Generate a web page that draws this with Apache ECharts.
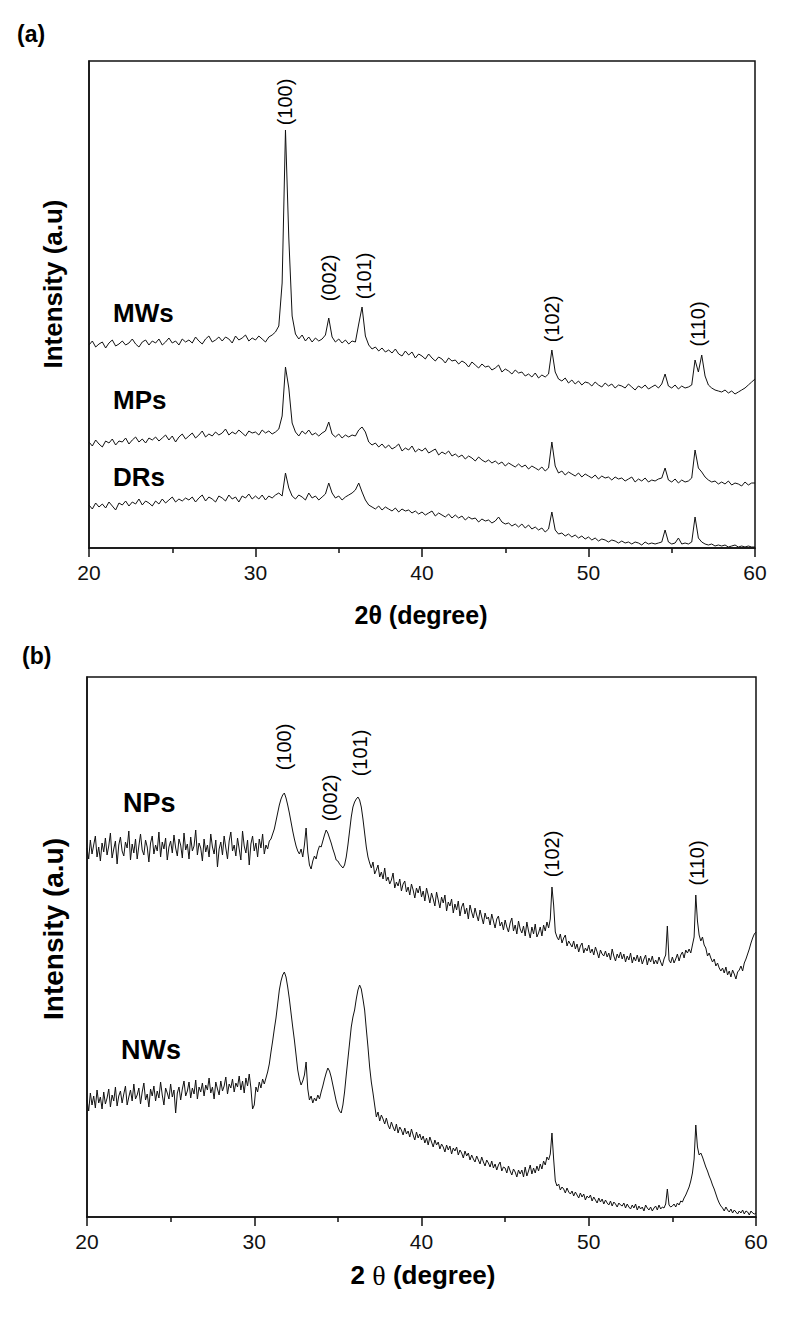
<!DOCTYPE html>
<html>
<head>
<meta charset="utf-8">
<script src="https://cdn.jsdelivr.net/npm/echarts@6/dist/echarts.min.js"></script>
<style>
html,body{margin:0;padding:0;background:#fff;}
#chart{width:800px;height:1321px;}
</style>
</head>
<body>
<div id="chart"></div>
<script>
// 2θ measurement grids (20°–60°): panel (a) step 0.2°, panel (b) step 0.1°
const thetaStart = 20;
const stepA = 0.2, countA = 201;
const stepB = 0.1, countB = 401;
const twoThetaA = Array.from({length: countA}, (_, i) => +(thetaStart + stepA * i).toFixed(1));
const twoThetaB = Array.from({length: countB}, (_, i) => +(thetaStart + stepB * i).toFixed(1));

// Panel (a) intensities (a.u.) (step 0.2°)
const MWs = [
203,207,201,204,206,200,205,208,202,204,
207,203,205,209,204,201,206,208,203,207,
205,209,203,206,210,205,207,203,209,206,
208,205,211,207,204,209,212,206,208,211,
207,211,209,205,212,208,210,213,207,210,
208,212,209,206,211,213,216,222,265,418,
310,232,214,209,213,207,211,206,210,207,
209,213,230,211,206,209,205,208,204,207,
206,224,241,212,203,199,201,197,200,196,
198,195,199,194,192,197,193,196,190,194,
192,189,194,190,187,191,189,185,190,187,
188,184,187,185,181,186,183,180,184,181,
182,178,180,183,176,179,177,174,178,175,
176,172,174,171,175,170,173,171,174,198,
176,169,167,170,165,168,164,167,163,166,
165,162,166,163,161,165,162,164,160,163,
162,160,164,161,158,162,160,163,159,161,
163,160,164,174,162,160,163,159,162,160,
161,163,188,176,193,172,163,160,158,157,
156,158,155,157,154,156,158,160,163,166,
169];
const MPs = [
106,102,108,104,101,107,105,109,103,107,
106,110,104,108,111,106,109,105,110,108,
111,107,110,113,108,112,106,111,114,109,
112,115,110,113,117,111,114,112,116,113,
115,119,113,116,114,118,115,112,117,115,
116,113,118,115,117,114,116,119,132,181,
160,125,116,112,117,114,118,113,115,112,
115,117,126,114,111,114,110,113,111,113,
112,118,121,116,106,103,105,101,104,100,
103,99,101,104,97,100,98,102,96,99,
97,100,95,97,99,93,96,94,97,92,
94,91,93,89,92,90,87,91,88,86,
88,85,87,84,86,82,85,83,81,84,
81,83,79,82,80,78,81,77,80,106,
82,75,77,73,76,74,72,75,71,74,
72,70,73,69,72,70,71,68,71,69,
70,67,69,71,66,69,67,70,66,68,
67,69,70,80,68,66,69,65,68,66,
67,70,98,80,76,71,68,66,67,64,
66,64,67,63,65,64,62,66,63,65,
65];
const DRs = [
43,39,45,41,44,40,46,42,38,45,
43,47,42,46,44,49,43,47,45,42,
47,44,49,45,48,51,46,49,47,50,
48,51,46,50,53,47,51,49,46,52,
50,47,53,49,51,46,52,50,54,49,
52,49,53,48,52,50,53,55,52,75,
60,52,49,53,51,48,55,50,52,48,
51,54,65,55,50,52,48,51,53,55,
58,65,56,48,43,41,39,42,38,41,
39,37,40,36,39,37,38,35,37,34,
36,33,35,37,32,35,33,31,34,30,
33,30,32,28,31,29,30,26,29,27,
28,25,27,31,26,24,25,22,24,21,
24,20,23,19,21,18,20,16,19,36,
18,14,15,12,14,11,13,10,12,9,
11,8,10,7,9,8,6,8,7,5,
7,5,6,4,6,5,3,6,4,5,
4,5,6,18,6,4,5,10,4,5,
4,6,31,10,6,4,3,4,2,3,
2,3,1,2,3,1,2,1,2,1,
1];

// Panel (b) intensities (a.u.) (step 0.1°)
const NPs = [
369,358,377,363,372,381,360,370,356,374,
365,379,362,371,384,359,368,376,353,372,
380,366,361,375,369,386,357,373,364,378,
358,371,383,367,362,377,370,355,374,381,
363,372,366,385,360,375,368,379,357,370,
376,364,382,369,361,378,372,359,384,367,
373,358,380,366,371,387,362,374,369,356,
378,365,372,360,383,370,363,377,350,368,
375,362,381,369,358,376,385,366,372,361,
379,368,357,386,371,364,377,352,373,381,
366,374,360,378,369,383,363,372,368,376,
378,383,388,396,404,412,418,422,424,419,
412,404,395,386,378,371,366,363,368,360,
372,389,365,352,348,356,361,358,366,371,
370,376,382,387,384,379,374,368,363,357,
356,353,351,349,352,360,372,386,400,410,
415,418,420,417,410,398,384,370,360,354,
349,355,343,347,352,340,345,338,349,336,
340,333,337,344,329,335,331,338,326,333,
336,325,330,322,333,327,319,329,324,331,
320,326,316,329,322,314,324,318,311,325,
317,309,320,314,322,306,315,311,318,304,
313,307,316,301,310,314,303,309,298,312,
305,299,309,302,296,307,300,293,304,298,
300,292,303,296,289,298,301,291,295,287,
297,290,285,294,299,286,292,283,296,288,
284,291,281,295,286,279,290,283,293,280,
284,290,281,292,286,295,289,298,330,312,
285,280,277,283,274,279,282,271,276,273,
270,276,268,273,265,271,274,264,269,266,
272,264,268,262,270,265,259,267,263,261,
266,260,264,257,268,261,256,263,259,265,
258,263,255,261,257,264,254,260,256,262,
255,261,253,258,262,252,259,255,261,253,
257,253,260,255,251,258,262,291,257,254,
260,254,258,263,256,262,265,259,267,264,
268,264,272,280,322,296,282,276,280,272,
269,261,264,259,255,258,251,254,249,246,
249,244,250,242,246,240,247,243,238,245,
247,251,246,254,258,263,268,274,279,283,
285];
const NWs = [
117,106,124,112,121,109,127,114,120,108,
125,113,119,128,110,122,116,130,111,121,
126,114,123,131,112,120,127,116,133,118,
122,129,113,125,134,117,123,110,128,121,
131,116,126,119,135,122,112,129,124,118,
133,120,127,104,124,130,117,128,136,121,
126,135,119,129,123,137,118,130,125,134,
121,132,127,139,124,130,118,135,128,122,
136,126,131,140,123,133,129,138,125,134,
130,141,127,136,124,139,131,143,129,108,
112,130,125,135,129,138,133,139,145,153,
165,176,188,199,213,227,236,242,245,240,
230,218,204,190,177,162,147,138,132,136,
142,155,128,117,121,114,119,116,122,118,
125,131,138,144,149,146,140,132,124,116,
110,106,104,112,125,142,158,174,190,200,
207,218,227,232,228,218,207,188,170,150,
135,124,112,100,105,96,102,98,93,99,
92,88,95,90,86,93,84,90,87,82,
89,83,86,80,88,82,77,85,79,83,
77,81,74,79,72,80,75,70,77,72,
75,68,73,70,65,72,67,71,63,69,
66,70,62,67,64,59,66,61,64,57,
62,58,55,61,57,53,60,55,51,57,
54,50,56,49,53,47,52,55,46,50,
49,44,51,46,42,48,45,40,47,43,
47,40,50,41,46,52,43,49,44,51,
46,53,48,56,52,60,57,63,84,58,
36,31,33,27,30,28,24,29,25,23,
26,21,25,22,19,24,20,23,17,21,
19,22,16,20,17,14,19,15,18,13,
17,14,12,16,11,15,13,10,14,12,
11,14,9,13,10,8,12,9,13,7,
11,8,10,6,12,9,7,10,6,9,
11,7,12,8,10,9,13,28,12,10,
11,13,10,14,12,16,15,19,22,26,
30,36,44,58,92,70,62,64,60,55,
50,46,41,37,32,28,23,18,14,11,
9,6,10,7,5,8,4,7,5,3,
6,4,7,3,6,5,2,6,4,3,
4];

// Tick values on the 2θ axis
const xTicks = [20, 30, 40, 50, 60];
// Peak (hkl) labels: [2θ, intensity position, text]
const peakLabelsA = [[31.8, 446, '(100)'], [34.4, 270, '(002)'], [36.5, 272, '(101)'], [47.8, 229, '(102)'], [56.6, 224, '(110)']];
const peakLabelsB = [[31.8, 470, '(100)'], [34.5, 419, '(002)'], [36.3, 464, '(101)'], [47.8, 363, '(102)'], [56.5, 354, '(110)']];
// Sample name labels: [2θ, intensity position, text]
const sampleLabelsA = [[21.44, 235, 'MWs'], [21.44, 148, 'MPs'], [21.44, 71, 'DRs']];
const sampleLabelsB = [[22.15, 414, 'NPs'], [22.03, 167, 'NWs']];

const pair = (xs, arr) => xs.map((x, i) => [x, arr[i]]);

const chart = echarts.init(document.getElementById('chart'), null, {renderer: 'svg'});
const sans = 'Liberation Sans, Arial, sans-serif';

function xAxisCfg(gridIndex) {
  return {
    type: 'value', gridIndex, min: xTicks[0], max: xTicks[xTicks.length - 1], interval: 10,
    axisLine: {show: true, onZero: false, lineStyle: {color: '#111', width: 1.5}},
    axisTick: {show: true, inside: false, length: 9, lineStyle: {color: '#111', width: 1.5}},
    minorTick: {show: true, splitNumber: 2, length: 5, lineStyle: {color: '#111', width: 1.5}},
    splitLine: {show: false},
    axisLabel: {color: '#111', fontSize: 21, fontFamily: sans, margin: 14}
  };
}
function yAxisCfg(gridIndex, max) {
  return {
    type: 'value', gridIndex, min: 0, max,
    axisLine: {show: true, lineStyle: {color: '#111', width: 1.5}},
    axisTick: {show: false}, axisLabel: {show: false}, splitLine: {show: false}
  };
}
function lineSeries(name, xs, arr, idx) {
  return {
    name, type: 'line', xAxisIndex: idx, yAxisIndex: idx, data: pair(xs, arr),
    showSymbol: false, symbol: 'none', lineStyle: {color: '#111', width: 1}, animation: false, silent: true
  };
}
function textSeries(labels, idx, labelCfg) {
  return {
    type: 'scatter', xAxisIndex: idx, yAxisIndex: idx, symbolSize: 0, silent: true, animation: false,
    itemStyle: {opacity: 1, color: '#000'},
    data: labels,
    label: Object.assign({show: true, formatter: p => p.data[2], color: '#000', opacity: 1,
      textBorderWidth: 0, fontFamily: sans}, labelCfg)
  };
}

chart.setOption({
  backgroundColor: '#fff',
  animation: false,
  grid: [
    {left: 89, top: 61, width: 666, height: 487, show: true, borderColor: '#111', borderWidth: 1.5},
    {left: 87, top: 677, width: 669, height: 540, show: true, borderColor: '#111', borderWidth: 1.5}
  ],
  xAxis: [xAxisCfg(0), xAxisCfg(1)],
  yAxis: [yAxisCfg(0, 487), yAxisCfg(1, 540)],
  series: [
    lineSeries('MWs', twoThetaA, MWs, 0),
    lineSeries('MPs', twoThetaA, MPs, 0),
    lineSeries('DRs', twoThetaA, DRs, 0),
    lineSeries('NPs', twoThetaB, NPs, 1),
    lineSeries('NWs', twoThetaB, NWs, 1),
    textSeries(peakLabelsA, 0, {position: 'inside', rotate: 90, fontSize: 20}),
    textSeries(peakLabelsB, 1, {position: 'inside', rotate: 90, fontSize: 20}),
    textSeries(sampleLabelsA, 0, {position: 'right', distance: 0, fontSize: 26, fontWeight: 'bold'}),
    textSeries(sampleLabelsB, 1, {position: 'right', distance: 0, fontSize: 27, fontWeight: 'bold'})
  ],
  graphic: [
    {type: 'text', left: 17, top: 22, style: {text: '(a)', font: 'bold 23px ' + sans, fill: '#000'}},
    {type: 'text', left: 22, top: 644, style: {text: '(b)', font: 'bold 23px ' + sans, fill: '#000'}},
    {type: 'text', x: 53, y: 284, rotation: Math.PI / 2,
      style: {text: 'Intensity (a.u)', font: 'bold 26px ' + sans, fill: '#000', align: 'center', verticalAlign: 'middle'}},
    {type: 'text', x: 53, y: 929, rotation: Math.PI / 2,
      style: {text: 'Intensity (a.u)', font: 'bold 28px ' + sans, fill: '#000', align: 'center', verticalAlign: 'middle'}},
    {type: 'text', x: 421, y: 615,
      style: {text: '{a|2θ (degree)}', align: 'center', verticalAlign: 'middle', fill: '#000',
        rich: {a: {fontSize: 25, fontWeight: 'bold', fontFamily: sans, fill: '#000'}}}},
    {type: 'text', x: 423, y: 1275,
      style: {text: '{a|2 }{t|θ}{a| (degree)}', align: 'center', verticalAlign: 'middle', fill: '#000',
        rich: {a: {fontSize: 26, fontWeight: 'bold', fontFamily: sans, fill: '#000'},
               t: {fontSize: 28, fontFamily: 'Liberation Serif, Times New Roman, serif', fill: '#000'}}}}
  ]
});
</script>
</body>
</html>
